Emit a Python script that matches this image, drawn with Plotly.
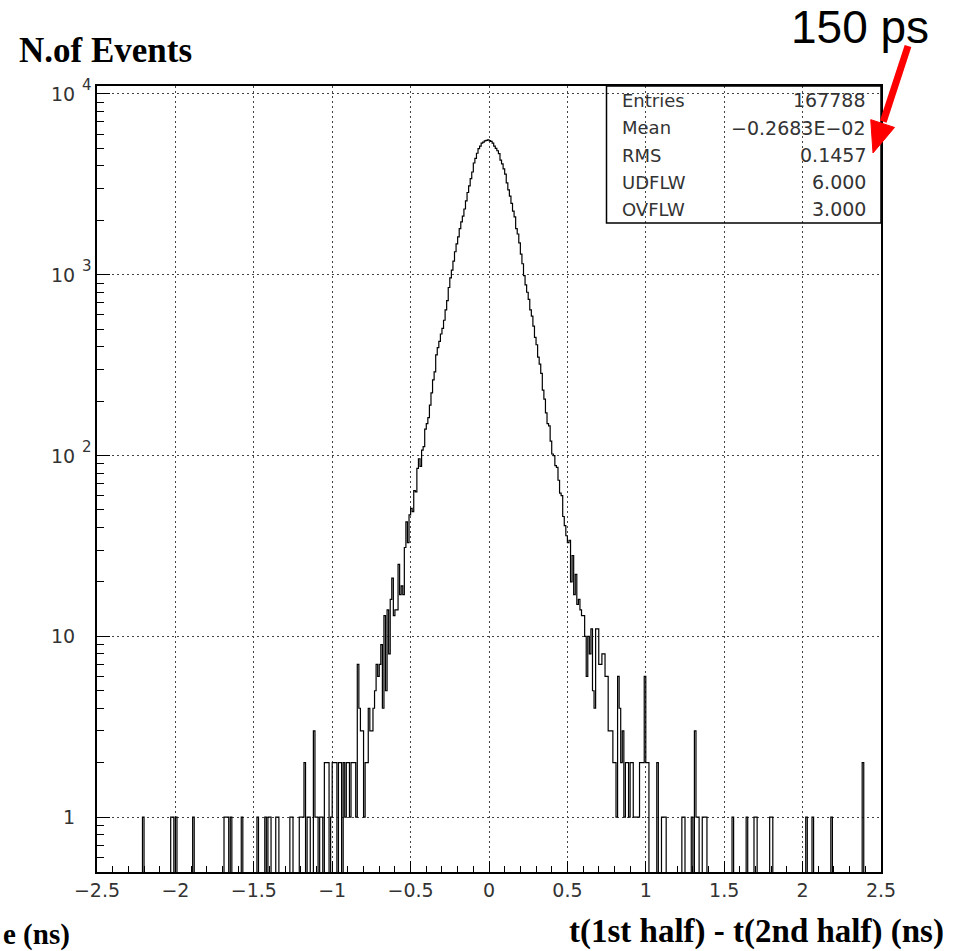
import numpy as np
import plotly.graph_objects as go

# ---- histogram binning: 500 bins of 0.01 ns on [-2.5, 2.5] ----
x_min, x_max, bin_width = -2.5, 2.5, 0.01

# dense core of the distribution, bin centres -0.695 ... 0.695 (140 bins)
core_first_center = -0.695
core_counts = [
    7, 9, 4, 13, 5, 14, 8, 16, 21, 13,
    14, 14, 25, 17, 19, 17, 31, 43, 33, 47,
    51, 49, 64, 63, 85, 96, 87, 107, 112, 140,
    150, 162, 190, 222, 262, 290, 360, 395, 428, 470,
    505, 560, 640, 720, 850, 960, 1060, 1190, 1340, 1480,
    1620, 1800, 1960, 2110, 2310, 2560, 2850, 3100, 3400, 3700,
    4150, 4400, 4700, 4980, 5150, 5350, 5420, 5500, 5540, 5580,
    5520, 5460, 5340, 5150, 5000, 4850, 4680, 4300, 4100, 3850,
    3600, 3220, 2950, 2720, 2480, 2250, 2090, 1800, 1680, 1500,
    1300, 1150, 990, 880, 800, 730, 640, 590, 520, 450,
    410, 350, 320, 285, 230, 205, 172, 150, 146, 120,
    102, 100, 88, 86, 73, 62, 60, 46, 41, 36,
    33, 34, 20, 28, 17, 22, 15, 16, 14, 13,
    13, 10, 6, 10, 8, 11, 5, 4, 11, 11,
]

# sparse tails: bin centre -> entries
left_tail = {
    -2.205: 1, -2.025: 1, -2.015: 1, -1.995: 1, -1.885: 1,
    -1.685: 1, -1.675: 1, -1.665: 1, -1.645: 1, -1.575: 1,
    -1.475: 1, -1.425: 1, -1.405: 1, -1.395: 1, -1.355: 1,
    -1.345: 1, -1.265: 1, -1.255: 1, -1.205: 1, -1.195: 1,
    -1.185: 1, -1.175: 2, -1.155: 1, -1.145: 1, -1.115: 3,
    -1.105: 1, -1.095: 1, -1.075: 1, -1.065: 1, -1.045: 2,
    -1.035: 2, -1.025: 2, -1.005: 1, -0.995: 2, -0.985: 2,
    -0.975: 2, -0.955: 2, -0.945: 2, -0.925: 2, -0.915: 1,
    -0.905: 2, -0.895: 2, -0.885: 1, -0.875: 2, -0.865: 2,
    -0.855: 2, -0.845: 1, -0.835: 7, -0.825: 4, -0.815: 3,
    -0.805: 3, -0.795: 1, -0.785: 2, -0.775: 2, -0.765: 4,
    -0.755: 3, -0.745: 3, -0.735: 4, -0.725: 5, -0.715: 7,
    -0.705: 6,
}
right_tail = {
    0.705: 7, 0.715: 7, 0.725: 8, 0.735: 8, 0.745: 6,
    0.755: 6, 0.765: 3, 0.775: 3, 0.785: 3, 0.795: 2,
    0.805: 2, 0.815: 1, 0.825: 6, 0.835: 4, 0.845: 2,
    0.855: 3, 0.865: 1, 0.875: 2, 0.885: 2, 0.895: 1,
    0.905: 2, 0.915: 2, 0.925: 1, 0.935: 1, 0.945: 1,
    0.955: 1, 0.965: 2, 0.975: 2, 0.985: 2, 0.995: 6,
    1.005: 2, 1.015: 2, 1.075: 2, 1.105: 1, 1.115: 1,
    1.125: 1, 1.235: 1, 1.245: 1, 1.295: 1, 1.315: 3,
    1.325: 1, 1.335: 1, 1.365: 1, 1.375: 1, 1.385: 1,
    1.555: 1, 1.645: 1, 1.695: 1, 1.705: 1, 1.795: 1,
    1.805: 1, 2.025: 1, 2.065: 1, 2.185: 1, 2.385: 2,
}

# statistics box
stat_names = ["Entries", "Mean", "RMS", "UDFLW", "OVFLW"]
stat_values = ["167788", "\u22120.2683E\u221202", "0.1457", "6.000", "3.000"]

# axis ticks
x_tick_vals = [-2.5, -2.0, -1.5, -1.0, -0.5, 0.0, 0.5, 1.0, 1.5, 2.0, 2.5]
x_tick_text = ["\u22122.5", "\u22122", "\u22121.5", "\u22121", "\u22120.5",
               "0", "0.5", "1", "1.5", "2", "2.5"]
y_tick_vals = [1, 10, 100, 1000, 10000]
y_tick_base = ["1", "10", "10", "10", "10"]
y_tick_exp = ["", "", "2", "3", "4"]

# ---- fill the bin array ----
n_bins = int(round((x_max - x_min) / bin_width))
counts = np.zeros(n_bins)


def bin_index(center):
    return int(round((center - x_min) / bin_width - 0.5))


i0 = bin_index(core_first_center)
for k, v in enumerate(core_counts):
    counts[i0 + k] = v
for c, v in {**left_tail, **right_tail}.items():
    counts[bin_index(c)] = v

edges = x_min + bin_width * np.arange(n_bins + 1)
# empty bins fall below the log axis floor, so the outline drops to the frame
y_plot = np.where(counts > 0, counts, 1e-3)
y_step = np.append(y_plot, y_plot[-1])

# ---- page geometry (pixels) ----
W, H = 970, 951
L, R, T, B = 97, 881, 86, 872          # plot frame


def px(x):
    return (x - L) / (R - L)


def py(y):
    return (B - y) / (B - T)


fig = go.Figure()
fig.add_trace(go.Scatter(
    x=edges, y=y_step, mode="lines",
    line=dict(shape="hv", color="black", width=1.2, simplify=False),
    hoverinfo="skip", showlegend=False,
))

thin_font = dict(family="DejaVu Sans", size=19, color="#333333")
serif_bold = dict(family="Liberation Serif", size=35, color="black")

fig.update_layout(
    width=W, height=H,
    margin=dict(l=L, r=W - R, t=T, b=H - B, pad=0),
    paper_bgcolor="white", plot_bgcolor="white",
    showlegend=False,
    xaxis=dict(
        range=[x_min, x_max], tickvals=x_tick_vals, ticktext=x_tick_text,
        ticks="inside", ticklen=11, tickwidth=1, tickcolor="black",
        minor=dict(dtick=0.1, tick0=0, ticks="inside", ticklen=6,
                   tickcolor="black", showgrid=False),
        showgrid=True, gridcolor="#444444", gridwidth=1, griddash="2px,3px",
        showline=True, linecolor="black", linewidth=1.5, mirror=True,
        zeroline=False, tickfont=thin_font, ticklabelstandoff=0,
    ),
    yaxis=dict(
        type="log", range=[np.log10(0.497), 4.044],
        tickvals=y_tick_vals, showticklabels=False,
        ticks="inside", ticklen=13, tickwidth=1, tickcolor="black",
        minor=dict(
            tickvals=[m * 10.0 ** e for e in range(-1, 4) for m in range(2, 10)
                      if m * 10.0 ** e > 0.5],
            ticks="inside", ticklen=7, tickcolor="black", showgrid=False),
        showgrid=True, gridcolor="#444444", gridwidth=1, griddash="2px,3px",
        showline=True, linecolor="black", linewidth=1.5, mirror=True,
        zeroline=False,
    ),
)

annotations = []
# y tick labels: mantissa right-aligned, exponent as superscript
for v, base, ex in zip(y_tick_vals, y_tick_base, y_tick_exp):
    annotations.append(dict(
        xref="paper", yref="y", x=px(77), y=np.log10(v), text=base,
        xanchor="right", yanchor="middle", showarrow=False, font=thin_font))
    if ex:
        annotations.append(dict(
            xref="paper", yref="y", x=px(80), y=np.log10(v), text=ex,
            xanchor="left", yanchor="middle", yshift=9, showarrow=False,
            font=dict(family="DejaVu Sans", size=15, color="#333333")))

# statistics box text
row_y = [100, 128, 155, 182, 209]
for name, val, ry in zip(stat_names, stat_values, row_y):
    annotations.append(dict(
        xref="paper", yref="paper", x=px(620), y=py(ry), text=name,
        xanchor="left", yanchor="middle", showarrow=False,
        font=dict(family="DejaVu Sans", size=18, color="#333333")))
    annotations.append(dict(
        xref="paper", yref="paper", x=px(868), y=py(ry), text=val,
        xanchor="right", yanchor="middle", showarrow=False,
        font=dict(family="DejaVu Sans", size=19, color="#333333")))

# titles
annotations.append(dict(
    xref="paper", yref="paper", x=px(17), y=py(51), text="<b>N.of Events</b>",
    xanchor="left", yanchor="middle", showarrow=False, font=serif_bold))
annotations.append(dict(
    xref="paper", yref="paper", x=px(567), y=py(932),
    text="<b>t(1st half) - t(2nd half) (ns)</b>",
    xanchor="left", yanchor="middle", showarrow=False,
    font=dict(family="Liberation Serif", size=33, color="black")))
annotations.append(dict(
    xref="paper", yref="paper", x=px(1), y=py(934), text="<b>e (ns)</b>",
    xanchor="left", yanchor="middle", showarrow=False,
    font=dict(family="Liberation Serif", size=29, color="black")))
annotations.append(dict(
    xref="paper", yref="paper", x=px(789), y=py(27), text="150 ps",
    xanchor="left", yanchor="middle", showarrow=False,
    font=dict(family="Liberation Sans", size=46, color="black")))
fig.update_layout(annotations=annotations)

# statistics box frame and red arrow pointing at the RMS value
tail = np.array([908.0, 46.0])
tip = np.array([873.0, 153.0])
u = (tip - tail) / np.linalg.norm(tip - tail)
n = np.array([-u[1], u[0]])
head_len, head_half = 31.0, 12.5
base = tip - head_len * u
c1, c2 = base + head_half * n, base - head_half * n

shapes = [
    dict(type="rect", xref="paper", yref="paper",
         x0=px(606.5), x1=px(R), y0=py(223), y1=py(T),
         line=dict(color="black", width=1.5), fillcolor="rgba(0,0,0,0)"),
    dict(type="line", xref="paper", yref="paper",
         x0=px(tail[0]), y0=py(tail[1]), x1=px(base[0] - 2 * u[0]),
         y1=py(base[1] - 2 * u[1]),
         line=dict(color="#ff0000", width=7)),
    dict(type="path", xref="paper", yref="paper",
         path=(f"M {px(tip[0])},{py(tip[1])} L {px(c1[0])},{py(c1[1])} "
               f"L {px(c2[0])},{py(c2[1])} Z"),
         fillcolor="#ff0000", line=dict(color="#ff0000", width=1)),
]
fig.update_layout(shapes=shapes)

fig.write_html("out.html")
